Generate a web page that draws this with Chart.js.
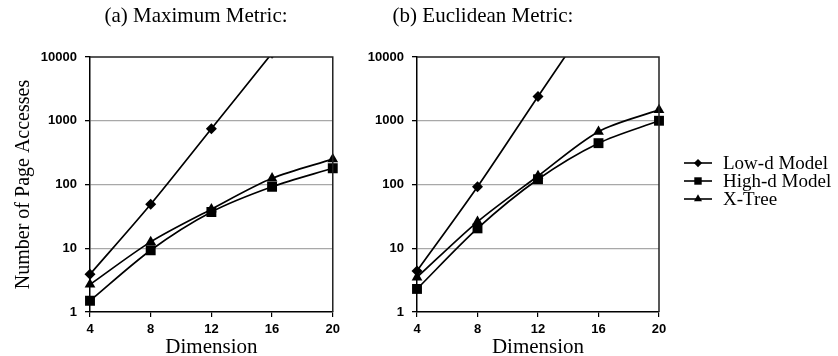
<!DOCTYPE html>
<html>
<head>
<meta charset="utf-8">
<script src="https://cdn.jsdelivr.net/npm/chart.js@4/dist/chart.umd.min.js"></script>
<style>
  html, body { margin: 0; padding: 0; background: #fff; }
  #wrap { position: relative; width: 838px; height: 356px; }
  #wrap canvas { position: absolute; top: 0; }
  #chartA { left: 0; }
  #chartB { left: 345px; }
</style>
</head>
<body>
<div id="wrap">
  <canvas id="chartA" width="345" height="356"></canvas>
  <canvas id="chartB" width="493" height="356"></canvas>
</div>
<script>
// dimensions on the x axis and the decade ticks of the log y axis
const dims = [4, 8, 12, 16, 20];
const yTicks = [1, 10, 100, 1000, 10000];
const seriesNames = ['Low-d Model', 'High-d Model', 'X-Tree'];

// (a) maximum metric
const lowMax = [3.9, 49, 750, 11500, 180000];
const highMax = [1.5, 9.3, 37, 92, 180];
const xtreeMax = [2.7, 12.6, 41, 125, 250];

// (b) euclidean metric
const lowEuc = [4.4, 92, 2400, 60000, 1500000];
const highEuc = [2.3, 20.5, 121, 445, 1000];
const xtreeEuc = [3.5, 26, 136, 675, 1480];

const markers = [
  { pointStyle: 'rectRot', radius: 5.5 },
  { pointStyle: 'rect', radius: 7 },
  { pointStyle: 'triangle', radius: 6.2 },
];

const SERIF = "'Liberation Serif', 'Times New Roman', serif";
const SANS = "'Liberation Sans', Arial, sans-serif";

const makeDatasets = (series) => series.map((vals, i) => ({
  label: seriesNames[i],
  data: dims.map((d, k) => ({ x: d, y: vals[k] })),
  borderColor: '#000',
  backgroundColor: '#000',
  borderWidth: 1.7,
  pointStyle: markers[i].pointStyle,
  pointRadius: markers[i].radius,
  pointBorderWidth: 0,
  tension: 0.3,
  clip: { left: 10, right: 10, top: 0, bottom: 10 },
}));

// panel heading, centred at a fixed x
const panelTitle = {
  id: 'panelTitle',
  afterDraw(chart, args, opts) {
    const ctx = chart.ctx;
    ctx.save();
    ctx.font = `21px ${SERIF}`;
    ctx.fillStyle = '#000';
    ctx.textAlign = 'center';
    ctx.textBaseline = 'middle';
    ctx.fillText(opts.text, opts.x, opts.y);
    ctx.restore();
  }
};

// box around the plot area
const frame = {
  id: 'frame',
  afterDatasetsDraw(chart) {
    const { ctx, chartArea: a } = chart;
    ctx.save();
    ctx.strokeStyle = '#222';
    ctx.lineWidth = 1.5;
    ctx.beginPath();
    ctx.moveTo(a.left, a.top);
    ctx.lineTo(a.right, a.top);
    ctx.lineTo(a.right, a.bottom);
    ctx.stroke();
    ctx.restore();
  }
};

// legend: line stub with the series marker, then the name
const lineLegend = {
  id: 'lineLegend',
  afterDraw(chart, args, opts) {
    if (!opts.show) return;
    const ctx = chart.ctx;
    ctx.save();
    chart.data.datasets.forEach((ds, i) => {
      const y = opts.y + i * opts.step;
      ctx.strokeStyle = '#000';
      ctx.fillStyle = '#000';
      ctx.lineWidth = 1.6;
      ctx.beginPath();
      ctx.moveTo(opts.x, y);
      ctx.lineTo(opts.x + 28, y);
      ctx.stroke();
      Chart.helpers.drawPoint(ctx, {
        pointStyle: ds.pointStyle,
        radius: ds.pointRadius * 0.75,
        rotation: 0,
        borderWidth: 0,
      }, opts.x + 14, y);
      ctx.font = `19px ${SERIF}`;
      ctx.textAlign = 'left';
      ctx.textBaseline = 'middle';
      ctx.fillText(ds.label, opts.x + 39, y + 1);
    });
    ctx.restore();
  }
};

const makeChart = (id, series, cfg) => new Chart(document.getElementById(id), {
  type: 'line',
  data: { datasets: makeDatasets(series) },
  plugins: [frame, panelTitle, lineLegend],
  options: {
    responsive: false,
    animation: false,
    events: [],
    layout: { padding: { top: 57, right: cfg.padRight, left: 0, bottom: 0 } },
    scales: {
      x: {
        type: 'linear',
        min: 4,
        max: 20,
        afterBuildTicks: (s) => { s.ticks = dims.map(v => ({ value: v })); },
        afterFit: (s) => { s.height = 44; },
        border: { color: '#000', width: 1.5 },
        grid: {
          color: 'rgba(0,0,0,0)',
          tickColor: '#000',
          tickLength: 5,
          lineWidth: 1.2,
        },
        ticks: {
          color: '#000',
          padding: 5,
          maxRotation: 0,
          font: { family: SANS, size: 13, weight: 'bold' },
        },
        title: {
          display: true,
          text: 'Dimension',
          color: '#000',
          font: { family: SERIF, size: 21, lineHeight: 0.8 },
          padding: { top: 0, bottom: 0 },
        },
      },
      y: {
        type: 'logarithmic',
        min: 1,
        max: 10000,
        afterBuildTicks: (s) => { s.ticks = yTicks.map(v => ({ value: v })); },
        afterFit: (s) => { s.width = cfg.yWidth; },
        border: { color: '#000', width: 1.5 },
        grid: {
          color: (c) => (c.tick && (c.tick.value === 1 || c.tick.value === 10000)) ? 'rgba(0,0,0,0)' : '#a8a8a8',
          lineWidth: 1.3,
          tickColor: '#000',
          tickLength: 5,
        },
        ticks: {
          color: '#000',
          padding: 8,
          font: { family: SANS, size: 13, weight: 'bold' },
          callback: (v) => String(v),
        },
        title: {
          display: cfg.yTitle,
          text: 'Number of Page Accesses',
          color: '#000',
          font: { family: SERIF, size: 20, lineHeight: 1 },
          padding: { top: 14, bottom: 0 },
        },
      },
    },
    plugins: {
      legend: { display: false },
      tooltip: { enabled: false },
      panelTitle: { text: cfg.title, x: cfg.titleX, y: 16 },
      lineLegend: { show: cfg.legend, x: 339, y: 163, step: 18 },
    },
  },
});

makeChart('chartA', [lowMax, highMax, xtreeMax], {
  title: '(a) Maximum Metric:', titleX: 196, padRight: 12, yWidth: 90, yTitle: true, legend: false,
});
makeChart('chartB', [lowEuc, highEuc, xtreeEuc], {
  title: '(b) Euclidean Metric:', titleX: 138, padRight: 179, yWidth: 72, yTitle: false, legend: true,
});
</script>
</body>
</html>
